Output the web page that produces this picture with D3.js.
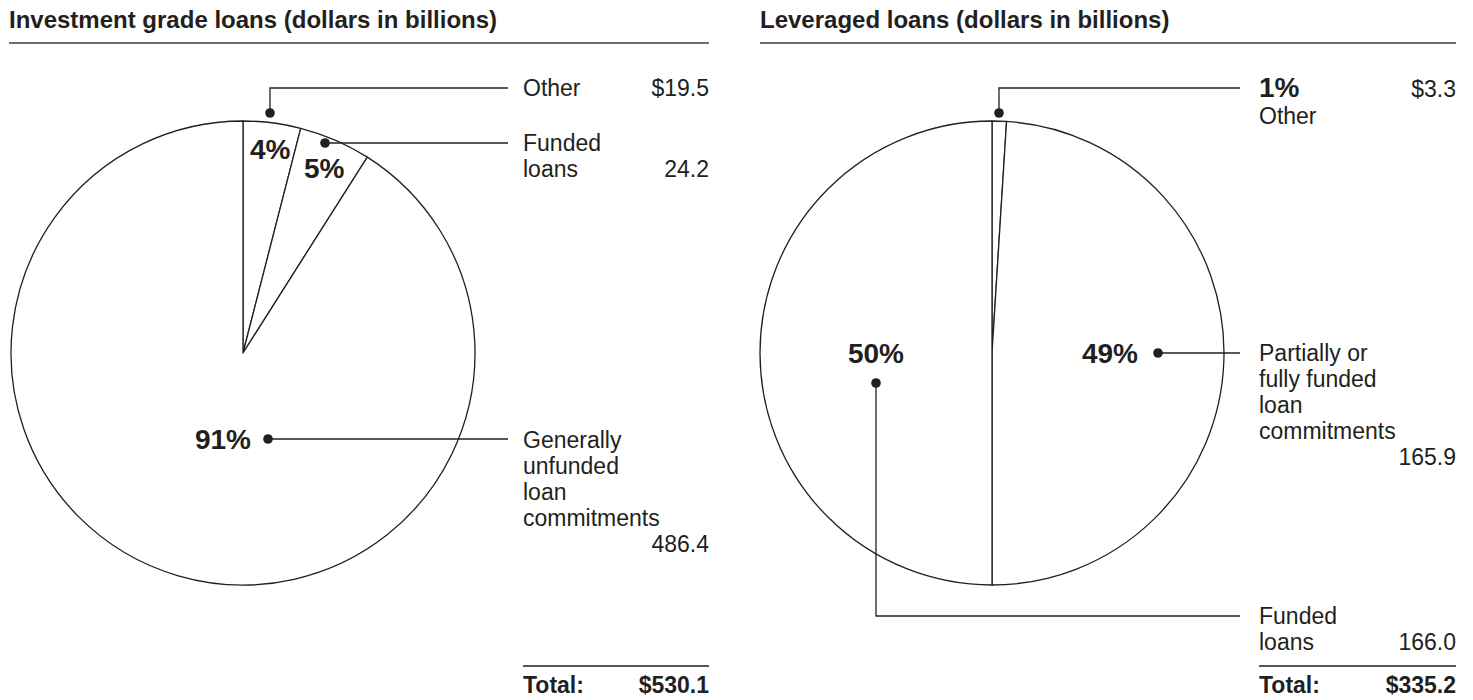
<!DOCTYPE html>
<html>
<head>
<meta charset="utf-8">
<script src="https://cdn.jsdelivr.net/npm/d3@7"></script>
<style>
  html, body { margin: 0; padding: 0; background: #ffffff; }
  svg { display: block; }
  text { font-family: Helvetica, Arial, "Liberation Sans", sans-serif; fill: #231f20; }
</style>
</head>
<body>
<svg id="chart" width="1473" height="700"></svg>
<script>
// ---- Investment grade loans (dollars in billions) ----
const igCategories = ["Other", "Funded loans", "Generally unfunded loan commitments"];
const igLabelLines = [["Other"], ["Funded", "loans"], ["Generally", "unfunded", "loan", "commitments"]];
const igShares = [4, 5, 91];            // percent of total
const igValues = [19.5, 24.2, 486.4];   // $ billions
const igTotal = 530.1;

// ---- Leveraged loans (dollars in billions) ----
const levCategories = ["Other", "Partially or fully funded loan commitments", "Funded loans"];
const levLabelLines = [["Other"], ["Partially or", "fully funded", "loan", "commitments"], ["Funded", "loans"]];
const levShares = [1, 49, 50];
const levValues = [3.3, 165.9, 166.0];
const levTotal = 335.2;

const ink = "#231f20";
const svg = d3.select("#chart");
const fmt = d3.format(".1f");
const money = (v, i) => (i === 0 ? "$" : "") + fmt(v);

const titleSize = 24;
const labelSize = 23;
const pctSize = 28;
const lineH = 26;

// Layout of each panel: pie geometry, label column and the leader path for every slice.
const panels = [
  {
    title: "Investment grade loans (dollars in billions)",
    x0: 9, x1: 709,
    cx: 243, cy: 353, r: 232,
    colX: 523, colEnd: 709, leaderEnd: 508,
    categories: igCategories, lines: igLabelLines, shares: igShares, values: igValues, total: igTotal,
    slices: [
      { dot: [270, 113], bend: [270, 88], pct: { x: 250, y: 159, anchor: "start" }, labelY: 96, valueOwnLine: false },
      { dot: [325, 143], bend: null, pct: { x: 304, y: 178, anchor: "start" }, labelY: 151, valueOwnLine: false },
      { dot: [268, 439], bend: null, pct: { x: 251, y: 449, anchor: "end" }, labelY: 448, valueOwnLine: true }
    ],
    totalRuleY: 666, totalY: 693
  },
  {
    title: "Leveraged loans (dollars in billions)",
    x0: 760, x1: 1456,
    cx: 992, cy: 353, r: 232,
    colX: 1259, colEnd: 1456, leaderEnd: 1240,
    categories: levCategories, lines: levLabelLines, shares: levShares, values: levValues, total: levTotal,
    slices: [
      { dot: [999, 113], bend: [999, 88], pct: null, labelY: 97, pctInColumn: true, valueOwnLine: false },
      { dot: [1158, 353], bend: null, pct: { x: 1138, y: 363, anchor: "end" }, labelY: 361, valueOwnLine: true },
      { dot: [876, 383], bend: [876, 616], pct: { x: 876, y: 363, anchor: "middle" }, labelY: 624, valueOwnLine: false }
    ],
    totalRuleY: 666, totalY: 693
  }
];

panels.forEach(p => {
  const g = svg.append("g");

  // Title and rule
  g.append("text")
    .attr("x", p.x0).attr("y", 28)
    .attr("font-size", titleSize).attr("font-weight", "bold")
    .text(p.title);
  g.append("line")
    .attr("x1", p.x0).attr("x2", p.x1).attr("y1", 43).attr("y2", 43)
    .attr("stroke", "#6d6e71").attr("stroke-width", 2.2);

  // Pie slices, clockwise from 12 o'clock in the listed order
  const pie = d3.pie().sort(null).value(d => d.share);
  const arc = d3.arc().innerRadius(0).outerRadius(p.r);
  const data = p.shares.map((s, i) => ({ share: s, name: p.categories[i] }));
  g.append("g")
    .attr("transform", `translate(${p.cx},${p.cy})`)
    .selectAll("path")
    .data(pie(data))
    .join("path")
    .attr("d", arc)
    .attr("fill", "#ffffff")
    .attr("stroke", ink)
    .attr("stroke-width", 1.3)
    .attr("stroke-linejoin", "round");

  // Leaders, percentages and labels
  p.slices.forEach((s, i) => {
    const lines = p.lines[i];
    const pts = [s.dot];
    if (s.bend) pts.push(s.bend);
    const last = pts[pts.length - 1];
    pts.push([p.leaderEnd, last[1]]);

    g.append("path")
      .attr("d", d3.line()(pts))
      .attr("fill", "none")
      .attr("stroke", ink)
      .attr("stroke-width", 1.3);
    g.append("circle")
      .attr("cx", s.dot[0]).attr("cy", s.dot[1]).attr("r", 4.8)
      .attr("fill", ink);

    const pctText = p.shares[i] + "%";
    let y = s.labelY;
    if (s.pct) {
      g.append("text")
        .attr("x", s.pct.x).attr("y", s.pct.y)
        .attr("text-anchor", s.pct.anchor)
        .attr("font-size", pctSize).attr("font-weight", "bold")
        .text(pctText);
    }
    if (s.pctInColumn) {
      g.append("text")
        .attr("x", p.colX).attr("y", y)
        .attr("font-size", pctSize).attr("font-weight", "bold")
        .text(pctText);
      g.append("text")
        .attr("x", p.colEnd).attr("y", y)
        .attr("text-anchor", "end").attr("font-size", labelSize)
        .text(money(p.values[i], i));
      y += 27;
      lines.forEach((ln, k) => {
        g.append("text").attr("x", p.colX).attr("y", y + k * lineH)
          .attr("font-size", labelSize).text(ln);
      });
      return;
    }

    lines.forEach((ln, k) => {
      g.append("text").attr("x", p.colX).attr("y", y + k * lineH)
        .attr("font-size", labelSize).text(ln);
    });
    const valueY = s.valueOwnLine
      ? y + lines.length * lineH
      : (i === 0 ? y : y + (lines.length - 1) * lineH);
    g.append("text")
      .attr("x", p.colEnd).attr("y", valueY)
      .attr("text-anchor", "end").attr("font-size", labelSize)
      .text(money(p.values[i], i));
  });

  // Total
  g.append("line")
    .attr("x1", p.colX).attr("x2", p.colEnd)
    .attr("y1", p.totalRuleY).attr("y2", p.totalRuleY)
    .attr("stroke", ink).attr("stroke-width", 1.3);
  g.append("text")
    .attr("x", p.colX).attr("y", p.totalY)
    .attr("font-size", labelSize).attr("font-weight", "bold")
    .text("Total:");
  g.append("text")
    .attr("x", p.colEnd).attr("y", p.totalY)
    .attr("text-anchor", "end")
    .attr("font-size", labelSize).attr("font-weight", "bold")
    .text("$" + fmt(p.total));
});
</script>
</body>
</html>
